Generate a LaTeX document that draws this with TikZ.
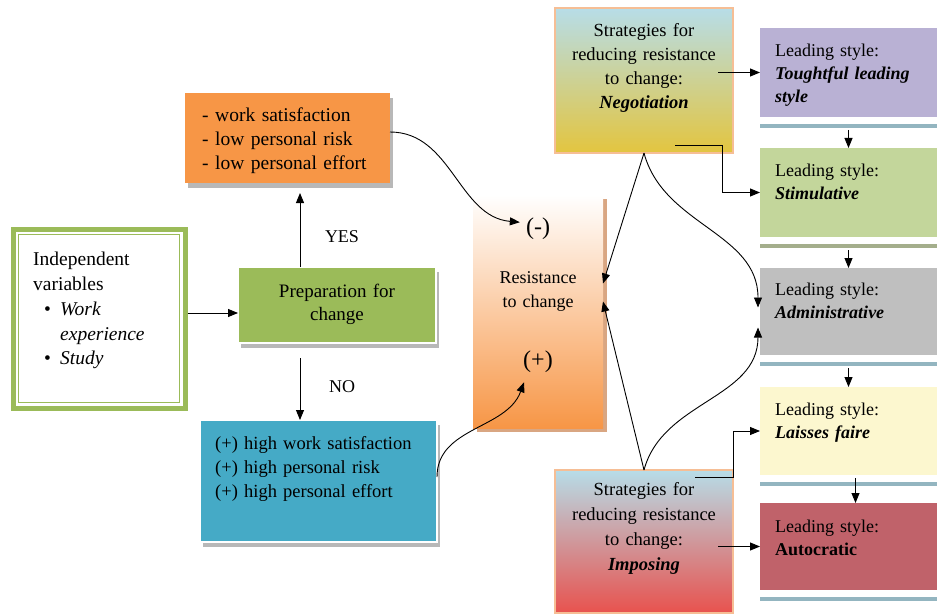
\documentclass[tikz,border=0pt]{standalone}
\usepackage{fontspec}
\setmainfont{Liberation Serif}
\usetikzlibrary{arrows.meta,shadows,positioning}

\definecolor{frameGreen}{HTML}{9BBB59}
\definecolor{satOrange}{HTML}{F79646}
\definecolor{riskBlue}{HTML}{45AAC6}
\definecolor{skyTop}{HTML}{B7DDE8}
\definecolor{negoYellow}{HTML}{E3C53F}
\definecolor{imposRed}{HTML}{E8524E}
\definecolor{peach}{HTML}{F6BE95}
\definecolor{resShadow}{HTML}{D9A682}
\definecolor{leadLilac}{HTML}{B9B1D4}
\definecolor{leadGreen}{HTML}{C3D69B}
\definecolor{leadGrey}{HTML}{BFBFBF}
\definecolor{leadCream}{HTML}{FCF7CF}
\definecolor{leadRed}{HTML}{C0626A}
\definecolor{barTeal}{HTML}{93B5C0}
\definecolor{barOlive}{HTML}{A4AE8C}

\tikzset{
  box/.style={rectangle, inner sep=0pt, outer sep=0pt, anchor=north west},
  shade box/.style={box, drop shadow={shadow xshift=3pt, shadow yshift=-5pt, fill=black!28, opacity=1}},
  txt/.style={inner sep=0pt, anchor=base, font=\fontsize{18}{24}\selectfont},
  ltxt/.style={txt, anchor=base west, text width=180pt, align=left},
  ctxt/.style={txt, text width=178pt, align=center},
  sign/.style={txt, font=\fontsize{24}{24}\selectfont},
  leadtxt/.style={ltxt, font=\fontsize{18}{23}\selectfont},
  lead/.style={box, minimum width=177pt, minimum height=88pt},
  arr/.style={-{Triangle[length=10pt,width=8pt]}, line width=0.9pt},
}

\begin{document}
\begin{tikzpicture}[x=1pt,y=1pt]
\useasboundingbox[fill=white] (0,0) rectangle (940,-615);

% left part
\node[box, draw=frameGreen, line width=5pt, minimum width=172pt, minimum height=179pt] (indep) at (13,-229) {};
\draw[frameGreen, line width=1.2pt] ([shift={(5.5pt,-5.5pt)}]indep.north west) rectangle ([shift={(-5.5pt,5.5pt)}]indep.south east);
\node[ltxt, font=\fontsize{19.5}{25}\selectfont] (indeptxt) at (33,-265)
  {Independent\\variables\\
   \hspace*{11pt}\makebox[16pt][l]{\textbullet}\textit{Work}\\
   \hspace*{27pt}\textit{experience}\\
   \hspace*{11pt}\makebox[16pt][l]{\textbullet}\textit{Study}};

\node[shade box, fill=frameGreen, draw=white, line width=2pt, minimum width=198pt, minimum height=76pt] (prep) at (238,-267) {};
\node[ctxt, font=\fontsize{19}{23}\selectfont] (preptxt) at (337,-297) {Preparation for\\change};

\node[shade box, fill=satOrange, minimum width=205pt, minimum height=90pt] (sat) at (185,-93) {};
\node[ltxt, font=\fontsize{19.5}{24}\selectfont] (sattxt) at (202,-122) {- work satisfaction\\- low personal risk\\- low personal effort};

\node[shade box, fill=riskBlue, draw=white, line width=2pt, minimum width=237pt, minimum height=122pt] (blue) at (200,-420) {};
\node[ltxt, text width=230pt, font=\fontsize{18.5}{24}\selectfont] (bluetxt) at (215,-449) {(+) high work satisfaction\\(+) high personal risk\\(+) high personal effort};

\node[txt] (yes) at (342,-242) {YES};
\node[txt] (no) at (342,-392) {NO};

% resistance
\node[box, top color=white, bottom color=satOrange, minimum width=130pt, minimum height=233pt,
  drop shadow={shadow xshift=4pt, shadow yshift=-4pt, fill=resShadow, opacity=1}] (resist) at (473,-195) {};
\node[sign] (minus) at (538,-234) {(-)};
\node[ctxt] (resisttxt) at (538,-283) {Resistance\\to change};
\node[sign] (plus) at (538,-367) {(+)};

% strategies
\node[box, draw=peach, line width=2pt, top color=skyTop, bottom color=negoYellow, minimum width=178pt, minimum height=145pt] (nego) at (555,-8) {};
\node[ctxt, font=\fontsize{18.5}{24}\selectfont] (negotxt) at (644,-37) {Strategies for\\reducing resistance\\to change:\\\textbf{\textit{Negotiation}}};

\node[box, draw=peach, line width=2pt, top color=skyTop, bottom color=imposRed, minimum width=178pt, minimum height=143pt] (impos) at (555,-470) {};
\node[ctxt, font=\fontsize{18.5}{25}\selectfont] (impostxt) at (644,-495) {Strategies for\\reducing resistance\\to change:\\\textbf{\textit{Imposing}}};

% leading styles
\node[lead, fill=leadLilac, minimum height=89pt] (lead1) at (760,-28) {};
\node[lead, fill=leadGreen, minimum height=89pt, below=31pt of lead1] (lead2) {};
\node[lead, fill=leadGrey, minimum height=87pt, below=31pt of lead2] (lead3) {};
\node[lead, fill=leadCream, below=32pt of lead3] (lead4) {};
\node[lead, fill=leadRed, minimum height=87pt, below=28pt of lead4] (lead5) {};
\foreach \n/\c in {lead1/barTeal,lead2/barOlive,lead3/barTeal,lead4/barTeal,lead5/barTeal}
  \draw[\c, line width=4pt] ([yshift=-9pt]\n.south west) -- ([yshift=-9pt]\n.south east);

\node[leadtxt] (lead1txt) at ([shift={(15pt,-29pt)}]lead1.north west) {Leading style:\\\textbf{\textit{Toughtful leading}}\\\textbf{\textit{style}}};
\node[leadtxt] (lead2txt) at ([shift={(15pt,-29pt)}]lead2.north west) {Leading style:\\\textbf{\textit{Stimulative}}};
\node[leadtxt] (lead3txt) at ([shift={(15pt,-27pt)}]lead3.north west) {Leading style:\\\textbf{\textit{Administrative}}};
\node[leadtxt] (lead4txt) at ([shift={(15pt,-28pt)}]lead4.north west) {Leading style:\\\textbf{\textit{Laisses faire}}};
\node[leadtxt] (lead5txt) at ([shift={(15pt,-29pt)}]lead5.north west) {Leading style:\\\textbf{Autocratic}};

% connectors
\draw[arr] ([shift={(2.5pt,5.5pt)}]indep.east) -- ([yshift=5.5pt]indep.east -| prep.west);
\draw[arr, shorten >=10pt] ([xshift=-37pt]prep.north) -- ([xshift=-37pt]prep.north |- sat.south);
\draw[arr] ([shift={(-37pt,-15pt)}]prep.south) -- ([xshift=-37pt]prep.south |- blue.north);
\draw[arr] ([yshift=6pt]sat.east) to[out=0,in=175] ([shift={(-6pt,6pt)}]minus.west);
\draw[arr] ([yshift=4pt]blue.east) to[out=90,in=-110] ([shift={(-14pt,-10pt)}]plus.south);

\draw[arr] ([xshift=-15pt]nego.east |- lead1.west) -- (lead1.west);
\draw[arr] ([shift={(-58pt,8pt)}]nego.south east) -- ++(47pt,0) |- (lead2.west);
\draw[arr] (nego.south) -- ([yshift=28pt]resist.east);
\draw[arr] (nego.south) to[out=-75,in=90] ([shift={(-2pt,4pt)}]lead3.west);
\draw[arr] (impos.north) -- ([yshift=10pt]resist.east);
\draw[arr] (impos.north) to[out=75,in=-90] ([shift={(-2pt,-16pt)}]lead3.west);
\draw[arr] ([shift={(-38pt,-7pt)}]impos.north east) -- ++(38pt,0) |- (lead4.west);
\draw[arr] ([xshift=-15pt]impos.east |- lead5.west) -- (lead5.west);

\draw[arr] ([yshift=-13pt]lead1.south) -- (lead2.north);
\draw[arr] ([yshift=-13pt]lead2.south) -- (lead3.north);
\draw[arr] ([yshift=-13pt]lead3.south) -- (lead4.north);
\draw[arr] ([shift={(7pt,-3pt)}]lead4.south) -- ([xshift=7pt]lead5.north);
\end{tikzpicture}
\end{document}
